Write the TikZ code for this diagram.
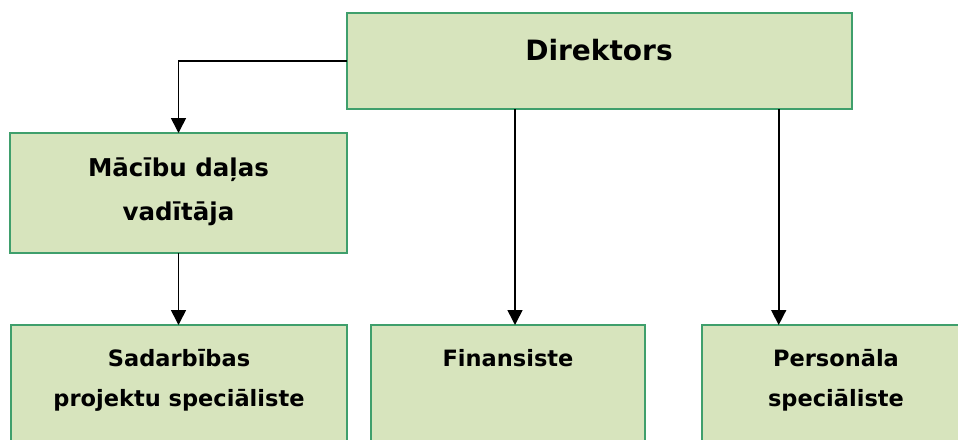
\documentclass[tikz,border=0pt]{standalone}
\usepackage{fontspec}
\setmainfont{DejaVu Sans}
\usetikzlibrary{arrows.meta}
\definecolor{boxfill}{HTML}{D7E4BD}
\definecolor{boxline}{HTML}{3F9F6C}
\tikzset{
  orgbox/.style={draw=boxline, fill=boxfill, line width=2.6pt, rectangle, inner sep=0pt, outer sep=0pt},
  lbl/.style={inner sep=0pt, align=center, font=\bfseries},
  arr/.style={draw=black, line width=1.6pt, -{Triangle[width=15pt,length=15pt]}}
}
\begin{document}
\begin{tikzpicture}[x=1pt,y=-1pt]
\useasboundingbox (0,0) rectangle (958,439);
\clip (0,0) rectangle (958,439);
% boxes
\node[orgbox, minimum width=505pt, minimum height=96pt] (dir) at (599.5,61) {};
\node[orgbox, minimum width=337pt, minimum height=120pt] (mac) at (178.5,193) {};
\node[orgbox, minimum width=336pt, minimum height=140pt] (sad) at (179,395) {};
\node[orgbox, minimum width=274pt, minimum height=140pt] (fin) at (508,395) {};
\node[orgbox, minimum width=268pt, minimum height=140pt] (pers) at (836,395) {};
% texts
\node[lbl, anchor=base, font=\bfseries\fontsize{28}{32}\selectfont] (tdir) at (599,60) {Direktors};
\node[lbl, font=\bfseries\fontsize{24.5}{44}\selectfont] (tmac) at (178.5,192) {Mācību daļas\\vadītāja};
\node[lbl, font=\bfseries\fontsize{22.5}{40}\selectfont] (tsad) at (179,380) {Sadarbības\\projektu speciāliste};
\node[lbl, anchor=base, font=\bfseries\fontsize{22.5}{40}\selectfont] (tfin) at (508,366) {Finansiste};
\node[lbl, font=\bfseries\fontsize{22.5}{40}\selectfont] (tpers) at (836,380) {Personāla\\speciāliste};
% connectors
\draw[arr] (dir.west) -| (mac.north);
\draw[arr] (mac.south) -- (mac.south |- sad.north);
\draw[arr] (dir.south -| 515,0) -- (fin.north -| 515,0);
\draw[arr] (dir.south -| 778.7,0) -- (pers.north -| 778.7,0);
\end{tikzpicture}
\end{document}
